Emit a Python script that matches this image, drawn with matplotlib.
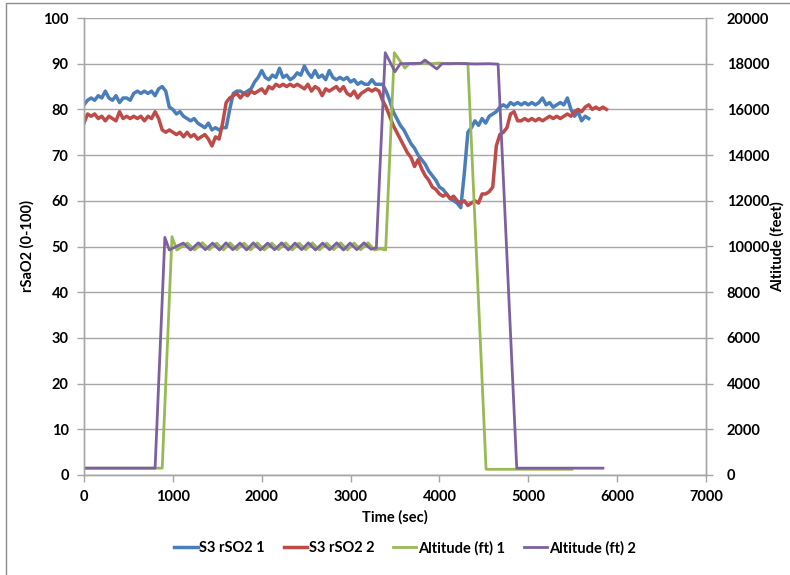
import numpy as np
import matplotlib
matplotlib.use("Agg")
import matplotlib.pyplot as plt
from matplotlib.patches import Rectangle

plt.rcParams['font.family'] = ['Lato', 'DejaVu Sans']

# ---- regional oxygen saturation, sampled every 40 s ----
rso2_1_time = np.arange(0, 5681, 40)
rso2_1 = [81, 82, 82.5, 82, 83, 82.5, 84, 82.5, 82, 83, 81.5, 82.5, 82.5, 82, 83.5, 84,
          83.5, 84, 83.5, 84, 83, 84.5, 85,
          84, 80.5, 80, 79, 79.5, 78.5, 78, 77.5, 78, 77, 76.5, 76, 77, 75.5, 76, 75.5, 76,
          76, 80, 83.5, 84, 84, 83.5, 84, 84.5, 86, 87, 88.5, 87, 86.5, 87.5, 87, 89, 87,
          87.5, 86.5, 87, 88, 87.5, 89.5, 88, 87, 88.5, 87, 87.5, 86.5, 88.5, 87, 86.5, 87,
          86.5, 87, 86, 86.5, 85.5, 86, 85.5, 85.5, 86.5, 85.5, 85.5, 85.5,
          84, 82, 79.5, 78, 76.5, 75.5, 74, 72.5, 71.5, 70, 69, 68, 66.5, 65.5, 64.5, 63,
          62.5, 61.5, 60.5, 60, 59.5, 58.5, 66, 75, 76, 77.5, 76.5, 78, 77, 78.5, 79, 79.5,
          80.5, 81, 80.5, 81.5, 81, 81.5, 81, 81.5, 81, 81.5, 81, 81.5, 82.5, 81, 81.5, 80.5,
          81, 81.5, 81, 82.5, 80, 78.5, 79.5, 77.5, 78.5, 78]

rso2_2_time = np.arange(0, 5881, 40)
rso2_2 = [77, 79, 78.5, 79, 78, 78.5, 77.5, 78.5, 78, 77.5, 79.5, 78, 78.5, 78, 78.5, 78,
          78.5, 77.5, 78.5, 78, 79.5, 78, 75.5, 75, 75.5, 75, 74.5, 75, 74, 75, 74, 74.5,
          73.5, 74, 74.5, 73.5, 72, 74, 73.5, 77, 81.5, 82.5, 83, 83.5, 82.5, 83.5, 83, 84,
          83.5, 84, 84.5, 83.5, 85, 84.5, 85.5, 85, 85.5, 85, 85.5, 85, 85.5, 85, 84.5, 85.5,
          84, 85, 84.5, 83, 84.5, 84, 84.5, 85, 84, 85, 83.5, 83, 84, 82.5, 83.5, 84, 84.5,
          84, 84.5, 84, 82, 80.5, 78.5, 76.5, 75, 73.5, 72, 70.5, 69.5, 67.5, 69, 67, 65.5,
          64.5, 63, 62.5, 61.5, 61, 61.5, 60.5, 61, 60, 59.5, 60, 59, 59.5, 60, 59.5, 61.5,
          61.5, 62, 63, 72, 74.5, 75, 76, 79, 79.5, 77.5, 77.5, 78, 77.5, 78, 77.5, 78, 77.5,
          78, 78.5, 78, 78.5, 78, 78.5, 79, 78.5, 79.5, 80, 79.5, 80.5, 81, 80, 80.5, 80,
          80.5, 80]

# ---- chamber altitude profiles (ft) ----
alt_1_time = [0, 880, 990, 1045, 1163, 1245, 1332, 1410, 1493, 1570, 1643, 1720, 1801, 1875,
              1951, 2030, 2112, 2190, 2270, 2345, 2420, 2495, 2570, 2650, 2731, 2810, 2889,
              2965, 3039, 3115, 3196, 3270, 3330, 3395, 3492, 3612, 3660, 3700, 3800, 3900,
              4000, 4100, 4200, 4320, 4525, 5490]
alt_1 = [300, 300, 10430, 9850, 10150, 9850, 10170, 9860, 10150, 9850, 10160, 9860, 10150,
         9850, 10160, 9850, 10150, 9860, 10160, 9850, 10150, 9860, 10160, 9850, 10150, 9860,
         10160, 9850, 10150, 9860, 10160, 9850, 9900, 9850, 18480, 17810, 18000, 17980,
         18020, 18000, 18030, 17990, 18010, 18010, 250, 250]

alt_2_time = [0, 800, 910, 960, 1118, 1200, 1287, 1365, 1448, 1525, 1598, 1675, 1756, 1830,
              1906, 1985, 2067, 2145, 2225, 2300, 2375, 2450, 2525, 2605, 2686, 2765, 2844,
              2920, 2994, 3070, 3151, 3230, 3290, 3390, 3500, 3560, 3700, 3790, 3837, 3970,
              4030, 4200, 4400, 4560, 4660, 4870, 5840]
alt_2 = [300, 300, 10400, 9850, 10150, 9850, 10160, 9860, 10150, 9850, 10160, 9860, 10150,
         9850, 10160, 9850, 10150, 9860, 10160, 9850, 10150, 9860, 10160, 9850, 10150, 9860,
         10160, 9850, 10150, 9860, 10160, 9880, 9950, 18480, 17650, 18000, 18010, 18020,
         18160, 17770, 18000, 18010, 17990, 18000, 17980, 300, 300]

series_labels = ["S3 rSO2 1", "S3 rSO2 2", "Altitude (ft) 1", "Altitude (ft) 2"]
colors = ["#4A7EBB", "#BE4B48", "#98B954", "#7D60A0"]

x_ticks = list(range(0, 7001, 1000))
left_ticks = list(range(0, 101, 10))
right_ticks = list(range(0, 20001, 2000))

W, H = 790, 575
fig = plt.figure(figsize=(W / 100, H / 100), dpi=100)
ax = fig.add_axes([84 / W, 1 - 475 / H, (706 - 84) / W, (475 - 18) / H])
ax2 = ax.twinx()

# frame around the chart area
fig.patches.append(Rectangle((6 / W, -0.05), 1.2, 1 - 3 / H + 0.05, transform=fig.transFigure,
                             fill=False, edgecolor="#8c8c8c", linewidth=1.0, zorder=0))

grid_c = "#a6a6a6"
ax.set_xlim(0, 7000)
ax.set_ylim(0, 100)
ax2.set_ylim(0, 20000)
ax.set_yticks(left_ticks)
ax.set_xticks(x_ticks)
ax2.set_yticks(right_ticks)
ax.yaxis.grid(True, color=grid_c, linewidth=1.0)
ax.set_axisbelow(True)

l1, = ax.plot(rso2_1_time, rso2_1, color=colors[0], linewidth=2.5, solid_joinstyle="round")
l2, = ax.plot(rso2_2_time, rso2_2, color=colors[1], linewidth=2.5, solid_joinstyle="round")
l3, = ax2.plot(alt_1_time, alt_1, color=colors[2], linewidth=2.0, solid_joinstyle="round")
l4, = ax2.plot(alt_2_time, alt_2, color=colors[3], linewidth=2.0, solid_joinstyle="round")

for a in (ax, ax2):
    a.spines["top"].set_visible(False)
    for s in ("left", "right", "bottom"):
        a.spines[s].set_color(grid_c)
        a.spines[s].set_linewidth(1.0)
    a.tick_params(colors=grid_c, length=5, width=1.0, labelcolor="black", labelsize=10.5)
    for lab in a.get_xticklabels() + a.get_yticklabels():
        lab.set_fontweight("bold")
ax.tick_params(axis="x", pad=6)
ax.tick_params(axis="y", pad=6)
ax2.tick_params(axis="y", pad=10)

ax.set_xlabel("Time (sec)", fontsize=10.5, fontweight="bold", labelpad=4)
ax.set_ylabel("rSaO2 (0-100)", fontsize=10.5, fontweight="bold")
ax.yaxis.set_label_coords((35 - 84) / (706 - 84), 0.5)
ax2.set_ylabel("Altitude (feet)", fontsize=10.5, fontweight="bold", rotation=90)
ax2.yaxis.set_label_coords((770 - 84) / (706 - 84), 0.5)

leg = fig.legend([l1, l2, l3, l4], series_labels, loc="center", bbox_to_anchor=(405 / W, 1 - 548 / H),
                 ncol=4, frameon=False, handlelength=1.6, handletextpad=0.1, columnspacing=1.3,
                 prop={"weight": "bold", "size": 10.5})

fig.savefig("out.png", dpi=100)
